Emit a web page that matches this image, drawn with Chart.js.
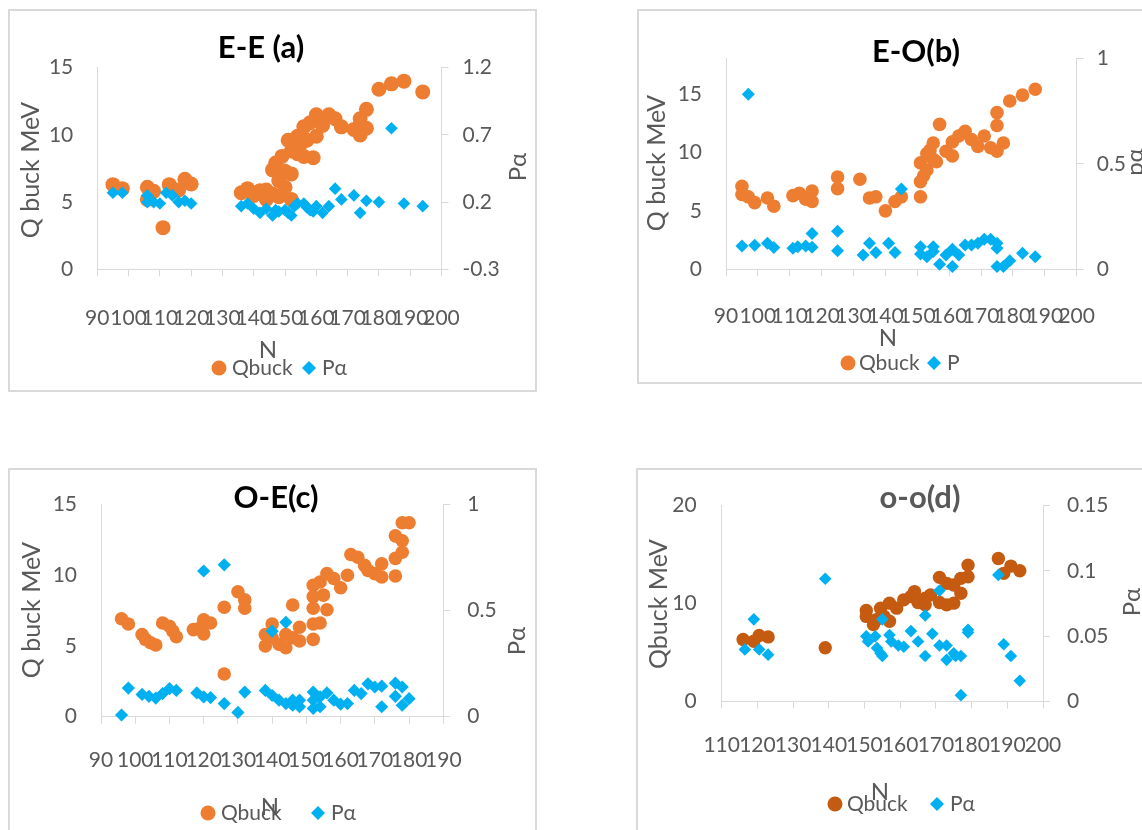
<!DOCTYPE html>
<html>
<head>
<meta charset="utf-8">
<script src="https://cdn.jsdelivr.net/npm/chart.js@4.4.1/dist/chart.umd.min.js"></script>
<style>
  body { margin: 0; background: #fff; width: 1142px; height: 830px; overflow: hidden; position: relative; }
  .box { position: absolute; border: 2px solid #d9d9d9; box-sizing: border-box; }
  canvas { position: absolute; }
</style>
</head>
<body>
<div class="box" style="left:8px;top:9px;width:529px;height:383px"></div>
<div class="box" style="left:637px;top:9px;width:520px;height:375px"></div>
<div class="box" style="left:8px;top:468px;width:529px;height:380px"></div>
<div class="box" style="left:636px;top:468px;width:520px;height:380px"></div>

<script>
// ---- (a) E-E ----
var eeQbuckN = [95, 98, 106, 106, 108, 111, 113, 116, 118, 120, 136, 138, 140, 142, 144, 144, 146, 146, 147, 148, 148, 149, 150, 150, 151, 152, 152, 152, 154, 154, 155, 156, 156, 157, 158, 159, 160, 160, 162, 164, 166, 168, 172, 174, 174, 176, 176, 180, 184, 188, 194];
var eeQbuck = [6.3, 6.0, 6.1, 5.2, 5.8, 3.1, 6.3, 5.9, 6.7, 6.35, 5.7, 6.0, 5.5, 5.85, 5.9, 5.2, 7.4, 5.6, 7.9, 6.6, 5.4, 8.4, 7.3, 6.1, 9.6, 7.1, 8.8, 5.2, 9.9, 8.6, 9.3, 10.6, 8.4, 9.6, 10.9, 8.3, 11.5, 9.9, 10.7, 11.5, 11.2, 10.6, 10.4, 11.2, 10.0, 11.9, 10.5, 13.4, 13.8, 14.0, 13.2];
var eePN = [95, 98, 106, 106, 108, 110, 112, 114, 116, 118, 120, 136, 138, 140, 142, 144, 146, 147, 148, 150, 151, 152, 153, 154, 156, 157, 158, 159, 160, 162, 164, 166, 168, 172, 174, 176, 180, 184, 188, 194];
var eeP = [0.27, 0.27, 0.25, 0.20, 0.20, 0.19, 0.27, 0.25, 0.20, 0.21, 0.19, 0.17, 0.19, 0.15, 0.12, 0.15, 0.10, 0.14, 0.13, 0.14, 0.12, 0.10, 0.17, 0.19, 0.19, 0.16, 0.14, 0.13, 0.17, 0.12, 0.17, 0.30, 0.22, 0.25, 0.12, 0.21, 0.20, 0.75, 0.19, 0.17];

// ---- (b) E-O ----
var eoQbuckN = [95, 95, 97, 99, 103, 105, 111, 113, 115, 117, 117, 125, 125, 132, 135, 137, 140, 143, 145, 151, 151, 151, 152, 153, 153, 154, 155, 155, 156, 157, 159, 161, 161, 163, 165, 167, 169, 171, 173, 175, 175, 175, 177, 179, 183, 187];
var eoQbuck = [7.1, 6.4, 6.2, 5.7, 6.1, 5.4, 6.3, 6.5, 6.0, 6.7, 5.8, 7.9, 6.9, 7.7, 6.1, 6.2, 5.0, 5.8, 6.2, 6.2, 7.5, 9.1, 8.0, 8.5, 9.9, 10.2, 10.8, 9.4, 9.2, 12.4, 10.1, 10.9, 9.7, 11.4, 11.8, 11.1, 10.5, 11.4, 10.4, 13.4, 12.3, 10.1, 10.8, 14.4, 14.9, 15.4];
var eoPN = [95, 97, 99, 103, 105, 111, 112.5, 115, 117, 117, 125, 125, 133, 135, 137, 141, 143, 145, 151, 151, 153, 155, 155, 157, 159, 161, 161, 163, 165, 167, 169, 171, 173, 175, 175, 175, 177, 179, 183, 187];
var eoP = [0.11, 0.83, 0.114, 0.123, 0.103, 0.10, 0.107, 0.11, 0.17, 0.104, 0.18, 0.088, 0.068, 0.123, 0.08, 0.123, 0.08, 0.38, 0.107, 0.073, 0.06, 0.107, 0.084, 0.024, 0.068, 0.095, 0.013, 0.068, 0.115, 0.115, 0.123, 0.142, 0.142, 0.123, 0.10, 0.013, 0.013, 0.04, 0.076, 0.06];

// ---- (c) O-E ----
var oeQbuckN = [96, 98, 102, 103, 104.5, 106, 108, 110, 111, 112, 117, 119, 120, 120, 122, 126, 126, 130, 132, 132, 138, 138, 140, 140, 142, 144, 144, 146, 146, 148, 148, 152, 152, 152, 152, 152, 154, 154, 155, 156, 156, 158, 160, 162, 163, 165, 167, 168, 170, 172, 172, 176, 176, 176, 178, 178, 178, 180];
var oeQbuck = [6.93, 6.56, 5.81, 5.47, 5.23, 5.07, 6.63, 6.4, 6.05, 5.65, 6.16, 6.28, 6.86, 5.86, 6.63, 7.74, 3.02, 8.84, 8.26, 7.67, 5.81, 5.0, 6.56, 5.58, 5.12, 5.81, 4.88, 7.9, 5.58, 6.33, 5.35, 5.47, 6.56, 7.67, 8.49, 9.3, 6.63, 9.53, 8.6, 10.12, 7.56, 9.77, 9.12, 10.0, 11.47, 11.28, 10.7, 10.35, 10.12, 10.81, 9.88, 12.79, 11.2, 9.95, 12.44, 11.63, 13.72, 13.72];
var oePN = [96, 98, 102, 104, 106, 108, 110, 112, 118, 120, 120, 122, 126, 126, 130, 132, 138, 140, 140, 142, 144, 144, 146, 146, 148, 148, 152, 152, 152, 154, 154, 156, 158, 160, 162, 164, 166, 168, 170, 172, 172, 176, 176, 178, 178, 180];
var oeP = [0.008, 0.135, 0.105, 0.096, 0.088, 0.109, 0.132, 0.124, 0.112, 0.093, 0.687, 0.09, 0.716, 0.062, 0.02, 0.116, 0.124, 0.1, 0.403, 0.078, 0.062, 0.445, 0.078, 0.054, 0.078, 0.047, 0.116, 0.078, 0.039, 0.093, 0.047, 0.112, 0.078, 0.059, 0.062, 0.124, 0.109, 0.155, 0.14, 0.144, 0.047, 0.158, 0.096, 0.14, 0.054, 0.085];

// ---- (d) o-o ----
var ooQbuckN = [116, 119, 120.5, 123, 139, 150.5, 150.5, 152.5, 153.5, 154.5, 155.5, 157, 157, 159, 161, 163, 164, 165, 167, 167, 168.5, 171, 171, 173, 173, 175, 175, 177, 177, 179, 179, 187.5, 189, 191, 193.5];
var ooQbuck = [6.34, 6.17, 6.75, 6.61, 5.5, 9.3, 8.7, 7.86, 8.4, 9.54, 8.7, 8.2, 10.05, 9.54, 10.39, 10.72, 11.23, 10.12, 10.56, 9.88, 10.89, 12.68, 10.12, 12.07, 9.88, 11.9, 10.05, 12.58, 11.06, 13.93, 12.75, 14.6, 13.09, 13.83, 13.36];
var ooPN = [116.5, 119, 120.5, 123, 139, 150.5, 151, 153, 153.5, 154.5, 155, 155, 157, 157.5, 159.5, 161, 163, 165, 167, 167, 169, 171, 171, 173, 173, 175, 175.5, 177, 177, 179, 179, 187.5, 189, 191, 193.5];
var ooP = [0.040, 0.063, 0.040, 0.036, 0.094, 0.050, 0.046, 0.050, 0.041, 0.037, 0.035, 0.063, 0.051, 0.046, 0.043, 0.042, 0.054, 0.046, 0.066, 0.035, 0.052, 0.085, 0.043, 0.043, 0.032, 0.037, 0.035, 0.035, 0.005, 0.055, 0.053, 0.097, 0.044, 0.035, 0.016];

// tick labels
var xTicks90to200 = [90, 100, 110, 120, 130, 140, 150, 160, 170, 180, 190, 200];
var xTicks90to190 = [90, 100, 110, 120, 130, 140, 150, 160, 170, 180, 190];
var xTicks110to200 = [110, 120, 130, 140, 150, 160, 170, 180, 190, 200];
var qTicks15 = [0, 5, 10, 15];
var qTicks20 = [0, 10, 20];
var pTicksEE = [-0.3, 0.2, 0.7, 1.2];
var pTicksUnit = [0, 0.5, 1];
var pTicksOO = [0, 0.05, 0.1, 0.15];

var C_ORANGE = "#ED7D31";
var C_ORANGE_DARK = "#C55A11";
var C_BLUE = "#00B0F0";
var C_TEXT = "#595959";
var C_AXIS = "#D9D9D9";
var FONT = "Lato";

function pairs(xs, ys) {
  return xs.map(function (x, i) { return { x: x, y: ys[i] }; });
}

function fixedTicks(values) {
  return function (scale) {
    scale.ticks = values.map(function (v) { return { value: v }; });
  };
}

// titles, axis titles and legend (page coords converted to canvas coords)
var panelText = {
  id: "panelText",
  afterDraw: function (chart, args, o) {
    var ctx = chart.ctx;
    var bx = o.box.x, by = o.box.y;
    ctx.save();
    ctx.textBaseline = "middle";

    ctx.font = "bold 31px " + FONT;
    ctx.fillStyle = o.titleColor;
    ctx.textAlign = "center";
    ctx.fillText(o.title, o.titlePos[0] - bx, o.titlePos[1] - by);

    ctx.fillStyle = C_TEXT;
    ctx.font = "25px " + FONT;
    ctx.save();
    ctx.translate(o.yTitlePos[0] - bx, o.yTitlePos[1] - by);
    ctx.rotate(-Math.PI / 2);
    ctx.fillText(o.yTitle, 0, 0);
    ctx.restore();

    ctx.font = "24px " + FONT;
    ctx.save();
    ctx.translate(o.y1TitlePos[0] - bx, o.y1TitlePos[1] - by);
    ctx.rotate(-Math.PI / 2);
    ctx.fillText(o.y1Title, 0, 0);
    ctx.restore();

    ctx.fillText("N", o.nPos[0] - bx, o.nPos[1] - by);

    // legend
    var lg = o.legend;
    var ly = lg.y - by;
    ctx.fillStyle = o.qColor;
    ctx.beginPath();
    ctx.arc(lg.circleX - bx, ly, 7.5, 0, Math.PI * 2);
    ctx.fill();
    ctx.fillStyle = C_BLUE;
    ctx.beginPath();
    ctx.moveTo(lg.diamondX - bx - 7, ly);
    ctx.lineTo(lg.diamondX - bx, ly - 7);
    ctx.lineTo(lg.diamondX - bx + 7, ly);
    ctx.lineTo(lg.diamondX - bx, ly + 7);
    ctx.closePath();
    ctx.fill();
    ctx.fillStyle = C_TEXT;
    ctx.font = "21px " + FONT;
    ctx.textAlign = "left";
    ctx.fillText("Qbuck", lg.qTextX - bx, ly);
    ctx.fillText(lg.pLabel, lg.pTextX - bx, ly);
    ctx.restore();
  }
};

function makePanel(p) {
  var cv = document.createElement("canvas");
  cv.width = p.box.w;
  cv.height = p.box.h;
  cv.style.left = p.box.x + "px";
  cv.style.top = p.box.y + "px";
  document.body.appendChild(cv);

  var tickFont = { family: FONT, size: 21 };
  new Chart(cv, {
    type: "scatter",
    data: {
      datasets: [
        {
          label: p.pLabel,
          data: pairs(p.pN, p.pVals),
          yAxisID: "y1",
          pointStyle: "rectRot",
          pointRadius: p.rP,
          pointHoverRadius: p.rP,
          backgroundColor: C_BLUE,
          borderWidth: 0,
          clip: false
        },
        {
          label: "Qbuck",
          data: pairs(p.qN, p.qVals),
          yAxisID: "y",
          pointStyle: "circle",
          pointRadius: p.rQ,
          pointHoverRadius: p.rQ,
          backgroundColor: p.qColor,
          borderWidth: 0,
          clip: false
        }
      ]
    },
    options: {
      responsive: false,
      animation: false,
      events: [],
      layout: { padding: { top: p.plot.t - p.box.y, left: 0, right: 0, bottom: 0 } },
      plugins: {
        legend: { display: false },
        tooltip: { enabled: false },
        panelText: {
          box: p.box, title: p.title, titleColor: p.titleColor, titlePos: p.titlePos,
          yTitle: p.yTitle, yTitlePos: p.yTitlePos, y1Title: p.y1Title, y1TitlePos: p.y1TitlePos,
          nPos: p.nPos, legend: p.legend, qColor: p.qColor
        }
      },
      scales: {
        x: {
          type: "linear",
          position: "bottom",
          min: p.xTicks[0],
          max: p.xTicks[p.xTicks.length - 1],
          afterBuildTicks: fixedTicks(p.xTicks),
          afterFit: function (s) { s.height = p.box.y + p.box.h - p.plot.b; },
          grid: { display: true, drawOnChartArea: false, drawTicks: true, tickLength: 7, color: C_AXIS },
          border: { display: true, color: C_AXIS, width: 1 },
          ticks: { autoSkip: false, maxRotation: 0, minRotation: 0, padding: p.xPad, color: C_TEXT, font: tickFont,
            callback: function (v) { return String(v); } }
        },
        y: {
          type: "linear",
          position: "left",
          min: p.qTicks[0],
          max: p.qMax,
          afterBuildTicks: fixedTicks(p.qTicks),
          afterFit: function (s) { s.width = p.plot.l - p.box.x; },
          grid: { display: false, drawTicks: false },
          border: { display: true, color: C_AXIS, width: 1 },
          ticks: { autoSkip: false, padding: p.yPad, color: C_TEXT, font: tickFont,
            callback: function (v) { return String(v); } }
        },
        y1: {
          type: "linear",
          position: "right",
          min: p.pTicks[0],
          max: p.pTicks[p.pTicks.length - 1],
          afterBuildTicks: fixedTicks(p.pTicks),
          afterFit: function (s) { s.width = p.box.x + p.box.w - p.plot.r; },
          grid: { display: true, drawOnChartArea: false, drawTicks: true, tickLength: 7, color: C_AXIS },
          border: { display: true, color: C_AXIS, width: 1 },
          ticks: { autoSkip: false, padding: p.y1Pad, color: C_TEXT, font: tickFont,
            callback: function (v) { return String(v); } }
        }
      }
    },
    plugins: [panelText]
  });
}

makePanel({
  box: { x: 8, y: 9, w: 529, h: 383 },
  plot: { l: 97.3, r: 441.5, t: 67.7, b: 269.3 },
  xTicks: xTicks90to200, qTicks: qTicks15, qMax: 15, pTicks: pTicksEE,
  qN: eeQbuckN, qVals: eeQbuck, pN: eePN, pVals: eeP,
  qColor: C_ORANGE, rQ: 7.5, rP: 6.3, pLabel: "Pα",
  xPad: 29, yPad: 24, y1Pad: 14,
  title: "E-E (a)", titleColor: "#000", titlePos: [261, 48],
  yTitle: "Q buck MeV", yTitlePos: [31, 170],
  y1Title: "Pα", y1TitlePos: [518, 167],
  nPos: [268, 350],
  legend: { y: 368, circleX: 219, qTextX: 232, diamondX: 309, pTextX: 322, pLabel: "Pα" }
});

makePanel({
  box: { x: 637, y: 9, w: 505, h: 375 },
  plot: { l: 726, r: 1076.7, t: 58.3, b: 269.3 },
  xTicks: xTicks90to200, qTicks: qTicks15, qMax: 18.05, pTicks: pTicksUnit,
  qN: eoQbuckN, qVals: eoQbuck, pN: eoPN, pVals: eoP,
  qColor: C_ORANGE, rQ: 6.8, rP: 6.5, pLabel: "P",
  xPad: 27, yPad: 24, y1Pad: 13,
  title: "E-O(b)", titleColor: "#000", titlePos: [916, 52],
  yTitle: "Q buck MeV", yTitlePos: [657, 163],
  y1Title: "pα", y1TitlePos: [1135, 162],
  nPos: [888, 338],
  legend: { y: 363, circleX: 848, qTextX: 859, diamondX: 934, pTextX: 947, pLabel: "P" }
});

makePanel({
  box: { x: 8, y: 468, w: 529, h: 362 },
  plot: { l: 101, r: 443.3, t: 501.7, b: 716.7 },
  xTicks: xTicks90to190, qTicks: qTicks15, qMax: 15, pTicks: pTicksUnit,
  qN: oeQbuckN, qVals: oeQbuck, pN: oePN, pVals: oeP,
  qColor: C_ORANGE, rQ: 6.8, rP: 6.6, pLabel: "Pα",
  xPad: 24, yPad: 24, y1Pad: 17,
  title: "O-E(c)", titleColor: "#000", titlePos: [276, 498],
  yTitle: "Q buck MeV", yTitlePos: [32, 610],
  y1Title: "Pα", y1TitlePos: [517, 641],
  nPos: [270, 807],
  legend: { y: 813, circleX: 208, qTextX: 221, diamondX: 318, pTextX: 331, pLabel: "Pα" }
});

makePanel({
  box: { x: 636, y: 468, w: 506, h: 362 },
  plot: { l: 721.7, r: 1043, t: 505, b: 701.7 },
  xTicks: xTicks110to200, qTicks: qTicks20, qMax: 20, pTicks: pTicksOO,
  qN: ooQbuckN, qVals: ooQbuck, pN: ooPN, pVals: ooP,
  qColor: C_ORANGE_DARK, rQ: 6.7, rP: 6.3, pLabel: "Pα",
  xPad: 24, yPad: 25, y1Pad: 17,
  title: "o-o(d)", titleColor: C_TEXT, titlePos: [920, 498],
  yTitle: "Qbuck MeV", yTitlePos: [659, 604],
  y1Title: "Pα", y1TitlePos: [1132, 602],
  nPos: [880, 792],
  legend: { y: 804, circleX: 835, qTextX: 847, diamondX: 937, pTextX: 950, pLabel: "Pα" }
});
</script>
</body>
</html>
